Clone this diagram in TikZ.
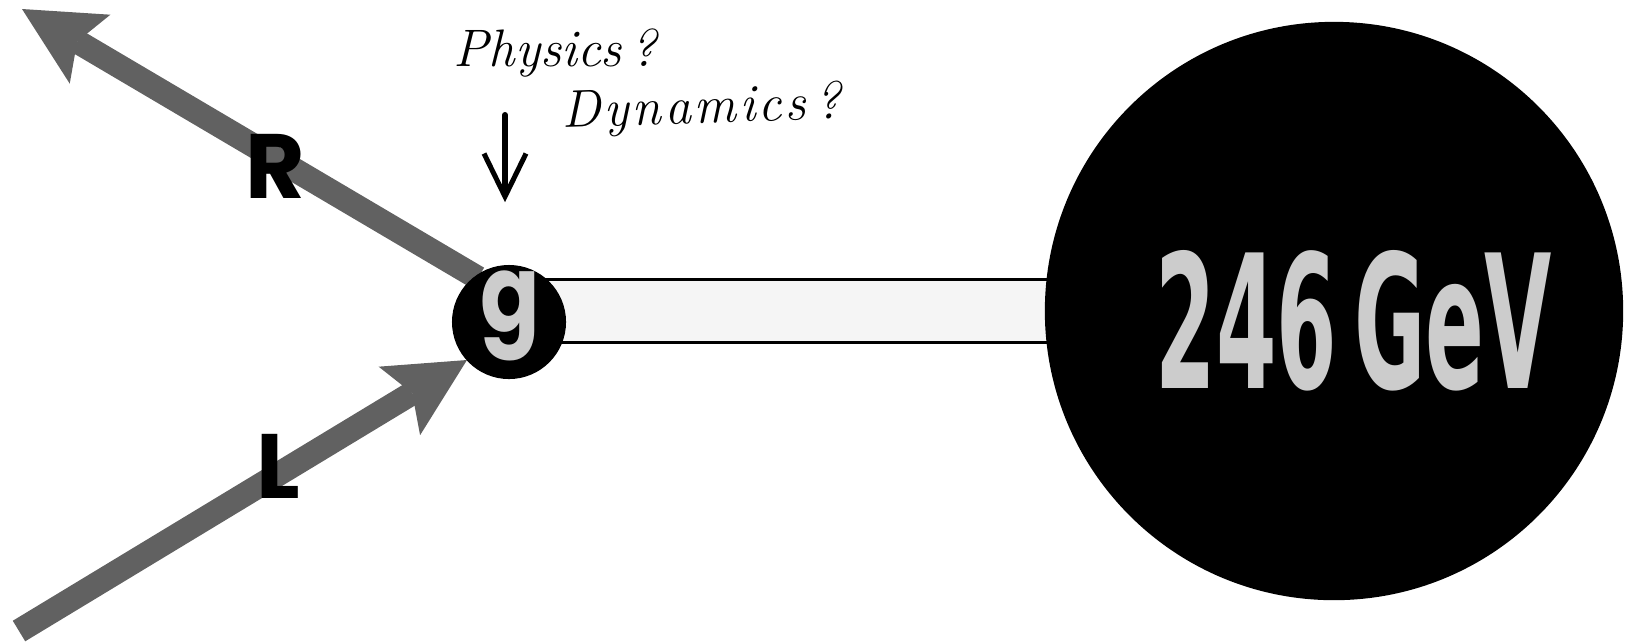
\documentclass[tikz,border=0pt]{standalone}
\usepackage{fontspec}
\usetikzlibrary{arrows.meta,calc,backgrounds}
\newfontfamily\popfont{Poppins}
\newfontfamily\condfont{DejaVu Sans Condensed}
\newfontfamily\handfont{Latin Modern Roman}
\newfontfamily\handwide{Latin Modern Roman}[LetterSpace=6]
\definecolor{arrowgray}{gray}{0.38}
\definecolor{glyphgray}{gray}{0.8}
\definecolor{barfill}{gray}{0.96}
\begin{document}
\begin{tikzpicture}[x=0.01cm,y=-0.01cm,
  fatarrow/.style={draw=arrowgray, line width=0.24cm,
    -{Stealth[length=0.79cm,width=0.8cm,inset=0.15cm,line width=0pt,fill=arrowgray]}},
  handarrow/.style={draw=black, line width=0.06cm, line cap=round,
    -{Straight Barb[length=0.43cm,width=0.42cm,line width=0.05cm]}},
  bigletter/.style={font=\popfont\bfseries\fontsize{26}{26}\selectfont, text=black, inner sep=0pt},
  gglyph/.style={font=\popfont\bfseries\fontsize{25}{25}\selectfont, text=glyphgray, inner sep=0pt},
  hand/.style={font=\itshape\fontsize{15}{15}\selectfont, inner sep=0pt, anchor=base west},
  blackdisc/.style={circle, fill=black, inner sep=0pt},
  barline/.style={draw=black, line width=0.03cm}]
\useasboundingbox (0,0) rectangle (1625,641);

% nodes
\node[blackdisc, minimum size=1.14cm] (g) at (509,322) {};
\node[gglyph] (gl) at (510,316) {\scalebox{1}[1.22]{g}};
\node[blackdisc, minimum size=5.78cm] (vev) at (1334,311) {};
\node[text=glyphgray, inner sep=0pt] (vevlabel) at (1354,321)
  {\resizebox{3.96cm}{1.38cm}{\condfont\bfseries 246\hspace{0.18em}GeV}};
\node[bigletter] (R) at (275,166) {R};
\node[bigletter] (L) at (278,466) {L};
\node[hand] (phys) at (453,66) {\handfont\itshape Physics\,?};
\node[hand, rotate=2] (dyn) at (562,128) {\handwide\itshape Dynamics\,?};

\coordinate (Rtip) at (22,9);
\coordinate (Rstart) at (478,278);
\coordinate (Ltail) at (19,631);
\coordinate (Ltip) at (467,360);
\coordinate (hs) at (505,115);

\begin{pgfonlayer}{background}
  % bar linking g to the 246 GeV disc
  \coordinate (bt) at ($(g.center |- vev.center)+(0,-32)$);
  \coordinate (bb) at ($(vev.center)+(0,31)$);
  \fill[barfill] (bt) rectangle (bb);
  \draw[barline] (bt) -- (bt -| vev.center);
  \draw[barline] (bt |- bb) -- (bb);
  % R and L arrows
  \draw[fatarrow] (Rstart) -- (Rtip);
  \draw[fatarrow] (Ltail) -- (Ltip);
\end{pgfonlayer}

\draw[handarrow, shorten >=0.62cm] (hs) -- (hs |- g.north);
\end{tikzpicture}
\end{document}
